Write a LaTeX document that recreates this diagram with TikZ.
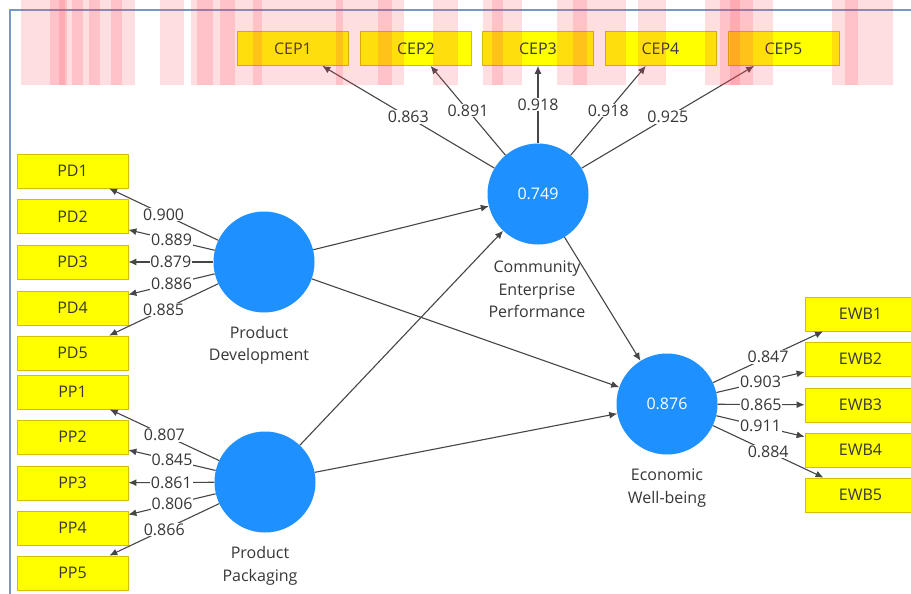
\documentclass[tikz,border=0pt]{standalone}
\usepackage{fontspec}
\setmainfont{Open Sans}
\usetikzlibrary{arrows.meta,calc}
\definecolor{boxyellow}{RGB}{255,255,0}
\definecolor{boxedge}{RGB}{215,190,0}
\definecolor{lvblue}{RGB}{30,144,255}
\definecolor{linegray}{RGB}{70,70,70}
\definecolor{txtgray}{RGB}{55,55,55}
\definecolor{framecol}{RGB}{120,150,200}
\definecolor{stripecol}{RGB}{255,60,80}
\begin{document}
\begin{tikzpicture}[x=1pt,y=-1pt,
  ind/.style={draw=boxedge, fill=boxyellow, line width=0.8pt, minimum width=111pt, minimum height=34pt, inner sep=0pt, font=\fontsize{16}{19}\selectfont, text=txtgray},
  lv/.style={circle, fill=lvblue, minimum size=101pt, inner sep=0pt, font=\fontsize{16}{19}\selectfont, text=white},
  lvname/.style={align=center, font=\fontsize{16}{22.5}\selectfont, text=txtgray, inner sep=0pt},
  conn/.style={draw=linegray, line width=1.1pt, -{Latex[length=8pt,width=7pt]}},
  coef/.style={fill=white, inner sep=0.8pt, font=\fontsize{16}{19}\selectfont, text=txtgray},
  stripe/.style={fill=stripecol, opacity=0.17},
]
\useasboundingbox (0,0) rectangle (911,594);
\fill[white] (0,0) rectangle (911,594);
% frame
\draw[framecol, line width=1.5pt] (10,594) -- (10,10) -- (911,10);

% latent variables
\node[lv] (PD) at (264,262) {};
\node[lv] (PP) at (265,482) {};
\node[lv] (CEP) at (538,194) {0.749};
\node[lv] (EWB) at (667,404) {0.876};

\node[lvname] (PDn) at (259,345.5) {Product\\Development};
\node[lvname] (PPn) at (260,566) {Product\\Packaging};
\node[lvname] (CEPn) at (537,289.5) {Community\\Enterprise\\Performance};
\node[lvname] (EWBn) at (667,488) {Economic\\Well-being};

% indicators
\foreach \i/\y in {1/171,2/216.5,3/262,4/308,5/353}
  \node[ind] (PD\i) at (72.5,\y) {PD\i};
\foreach \i/\y in {1/392,2/437,3/483,4/528,5/573}
  \node[ind] (PP\i) at (72.5,\y) {PP\i};
\foreach \i/\x in {1/293,2/416,3/538,4/660.5,5/783.5}
  \node[ind] (CEP\i) at (\x,48.5) {CEP\i};
\foreach \i/\y in {1/314,2/359,3/405,4/450,5/495}
  \node[ind] (EWB\i) at (860.5,\y) {EWB\i};

% structural paths
\draw[conn] (PD) -- (CEP);
\draw[conn] (PD) -- (EWB);
\draw[conn] (PP) -- (CEP);
\draw[conn] (PP) -- (EWB);
\draw[conn] (CEP) -- (EWB);

% loadings
\foreach \i/\v in {1/0.900,2/0.889,3/0.879,4/0.886,5/0.885}
  \draw[conn] (PD) -- node[coef]{\v} (PD\i);
\foreach \i/\v in {1/0.807,2/0.845,3/0.861,4/0.806,5/0.866}
  \draw[conn] (PP) -- node[coef]{\v} (PP\i);
\foreach \i/\v in {1/0.863,2/0.891,3/0.918,4/0.918,5/0.925}
  \draw[conn] (CEP) -- node[coef]{\v} (CEP\i);
\foreach \i/\v in {1/0.847,2/0.903,3/0.865,4/0.911,5/0.884}
  \draw[conn] (EWB) -- node[coef]{\v} (EWB\i);

% translucent stripes across the top
\foreach \a/\b in {21/135,160/184,191/404,433/458,483/522,557/626,638/666,705/773,832/893,
  50/67,59/65,72/83,89/100,111/122,197/213,220/235,253/262,336/343,378/392,492/503,573/587,720/753,730/740,845/858}
  \fill[stripe] (\a,0) rectangle (\b,85);
\end{tikzpicture}
\end{document}
